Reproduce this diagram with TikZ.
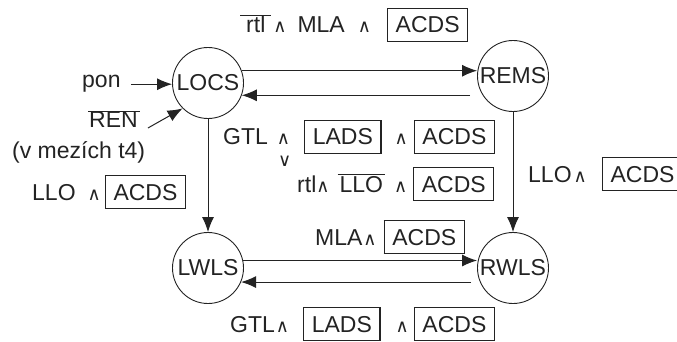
\documentclass[tikz,border=0pt]{standalone}
\usepackage{fontspec}
\setmainfont{Liberation Sans}
\newfontfamily\dejavu{DejaVu Sans}
\usetikzlibrary{arrows.meta}

\definecolor{ink}{RGB}{35,35,35}
\setlength{\fboxsep}{7.5pt}
\setlength{\fboxrule}{1.2pt}
\newcommand{\andop}{{\dejavu\fontsize{18}{18}\selectfont ∧}}
\newcommand{\orop}{{\dejavu\fontsize{18}{18}\selectfont ∨}}
\newcommand{\negsig}[1]{$\overline{\hbox{#1}}$}

\tikzset{
  state/.style={draw, circle, minimum size=71pt, inner sep=0pt, line width=0.9pt},
  lbl/.style={anchor=base west, inner sep=0pt},
  arr/.style={draw, line width=1pt, -{Latex[length=15pt,width=12pt]}},
}

\begin{document}
\begin{tikzpicture}[x=1pt, y=-1pt, font=\fontsize{23}{27}\selectfont, color=ink]
	\useasboundingbox (0,0) rectangle (677,342);

	\node [state] (locs) at (208,83) {LOCS};
	\node [state] (rems) at (513,76) {REMS};
	\node [state] (lwls) at (208,268) {LWLS};
	\node [state] (rwls) at (513,268) {RWLS};

	\node [lbl] (pon) at (82,88) {pon};
	\node [lbl] (ren) at (88,128) {\negsig{\kern1pt REN\kern2pt}};
	\node [lbl] (window) at (12,158) {(v mezích t4)};

	% conditions of the transitions
	\node [lbl] (toRems) at (240,33) {\negsig{\kern6pt rtl\kern6pt}\hspace{2pt}\andop\hspace{11pt}MLA\hspace{13pt}\andop\hspace{16pt}\fbox{ACDS}};
	\node [lbl] (toLocsA) at (223,145) {GTL\hspace{9pt}\andop\hspace{14pt}\fbox{LADS}\hspace{13pt}\andop\hspace{6pt}\fbox{ACDS}};
	\node [lbl] (orSign) at (278,166) {\orop};
	\node [lbl] (toRemsB) at (297,192) {rtl\andop\hspace{8pt}\negsig{\kern2pt LLO\kern2pt}\hspace{9pt}\andop\hspace{6pt}\fbox{ACDS}};
	\node [lbl] (toRwls) at (528,182) {LLO\hspace{2pt}\andop\hspace{15pt}\fbox{ACDS}};
	\node [lbl] (toLwls) at (32,200) {LLO\hspace{12pt}\andop\hspace{4pt}\fbox{ACDS}};
	\node [lbl] (toRwlsB) at (315,245) {MLA\hspace{1pt}\andop\hspace{7pt}\fbox{ACDS}};
	\node [lbl] (toLwlsB) at (230,332) {GTL\hspace{1pt}\andop\hspace{14pt}\fbox{LADS}\hspace{15pt}\andop\hspace{5pt}\fbox{ACDS}};

	\draw [arr] ([xshift=10pt]pon.east) -- (pon.east -| locs.west);
	\draw [arr] ([xshift=8pt]ren.base east) -- (locs.225);
	\draw [arr] (locs.20) -- (locs.20 -| rems.west);
	\draw [arr, shorten <=7pt] (locs.-20 -| rems.west) -- (locs.-20);
	\draw [arr] (locs) -- (lwls);
	\draw [arr] (rems) -- (rwls);
	\draw [arr] (lwls.12) -- (lwls.12 -| rwls.west);
	\draw [arr, shorten <=6pt] (lwls.-23 -| rwls.west) -- (lwls.-23);
\end{tikzpicture}
\end{document}
